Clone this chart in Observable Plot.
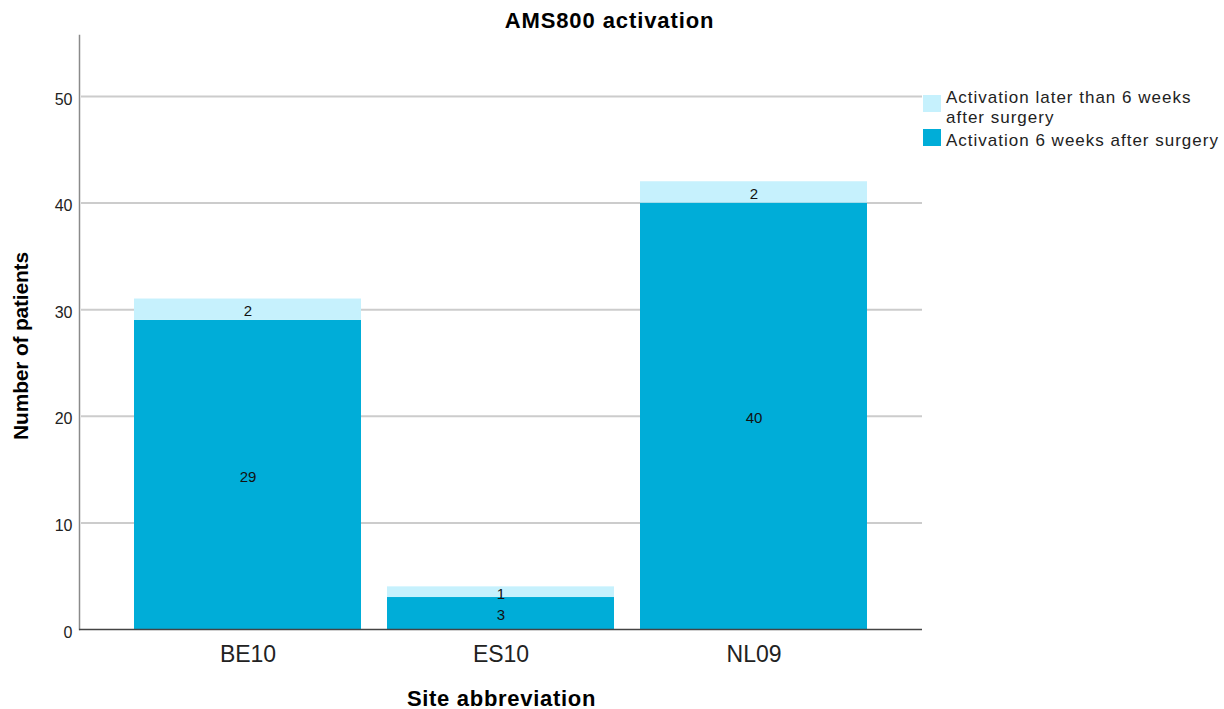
<!DOCTYPE html>
<html><head><meta charset="utf-8">
<script src="https://cdn.jsdelivr.net/npm/d3@7"></script>
<script src="https://cdn.jsdelivr.net/npm/@observablehq/plot@0.6"></script>
<style>
body{margin:0;background:#fff;font-family:"Liberation Sans",Arial,sans-serif;}
#wrap{position:relative;width:1224px;height:709px;}
#wrap svg{position:absolute;left:0;top:0;}
.t{position:absolute;color:#000;white-space:nowrap;}
</style></head><body>
<div id="wrap"></div>
<script>
const sites = ["BE10", "ES10", "NL09"];
const seriesNames = ["Activation 6 weeks after surgery", "Activation later than 6 weeks after surgery"];
const on6weeks = [29, 3, 40];
const later = [2, 1, 2];
const colors = ["#00ADD8", "#C6F1FD"];
const yTicks = [0, 10, 20, 30, 40, 50];

const data = [];
sites.forEach((s, i) => {
  data.push({site: s, status: seriesNames[0], value: on6weeks[i]});
  data.push({site: s, status: seriesNames[1], value: later[i]});
});

const W = 1224, H = 709;
const mL = 79, mR = W - 922, mT = 35, mB = H - 629;
const yMax = 55.72;

const chart = Plot.plot({
  width: W, height: H,
  marginLeft: mL, marginRight: mR, marginTop: mT, marginBottom: mB,
  style: {fontFamily: "Liberation Sans, Arial, sans-serif", background: "transparent"},
  x: {domain: sites, paddingInner: 0.104, paddingOuter: 0.216, label: null, axis: null},
  y: {domain: [0, yMax], label: null, axis: null},
  color: {domain: seriesNames, range: colors},
  marks: [
    Plot.ruleY(yTicks.filter(d => d > 0), {stroke: "#cccccc", strokeWidth: 2, insetLeft: 2}),
    Plot.barY(data, {x: "site", y: "value", fill: "status", order: seriesNames}),
    Plot.text(data, Plot.stackY({x: "site", y: "value", z: "status", order: seriesNames, text: d => String(d.value), fontSize: 15, dy: 2, fill: "#111"})),
    Plot.frame({anchor: "left", stroke: "#8a8a8a", strokeWidth: 1.5}),
    Plot.ruleY([0], {stroke: "#444", strokeWidth: 1.3}),
    Plot.axisY(yTicks, {anchor: "left", tickSize: 0, tickPadding: 7, fontSize: 16, dy: 3, label: null, fill: "#222"}),
    Plot.axisX(sites, {anchor: "bottom", tickSize: 0, tickPadding: 16, fontSize: 23, label: null, fill: "#222"})
  ]
});
const wrap = document.getElementById("wrap");
wrap.appendChild(chart);

function addText(txt, css) {
  const d = document.createElement("div");
  d.className = "t";
  d.textContent = txt;
  Object.assign(d.style, css);
  wrap.appendChild(d);
  return d;
}
addText("AMS800 activation", {left: "0px", width: "1219px", top: "9.7px", textAlign: "center", fontWeight: "bold", fontSize: "22px", lineHeight: "22px", letterSpacing: "0.9px"});
addText("Site abbreviation", {left: "0px", width: "1003px", top: "688px", textAlign: "center", fontWeight: "bold", fontSize: "22px", lineHeight: "22px", letterSpacing: "0.7px"});
addText("Number of patients", {left: "19.75px", top: "346px", fontWeight: "bold", fontSize: "21px", lineHeight: "21px", letterSpacing: "-0.2px", transform: "translate(-50%,-50%) rotate(-90deg)"});

// legend (top series first)
const legendOrder = [1, 0];
const legendTop = [87.8, 130.8];
const swatchTop = [95, 129];
legendOrder.forEach((k, j) => {
  const sw = document.createElement("div");
  Object.assign(sw.style, {position: "absolute", left: "923px", top: swatchTop[j] + "px", width: "18px", height: "17px", background: colors[k]});
  wrap.appendChild(sw);
  addText(seriesNames[k], {left: "946px", top: legendTop[j] + "px", width: "278px", whiteSpace: "normal", fontSize: "17px", lineHeight: "20px", letterSpacing: "1px", color: "#222"});
});
</script>
</body></html>
